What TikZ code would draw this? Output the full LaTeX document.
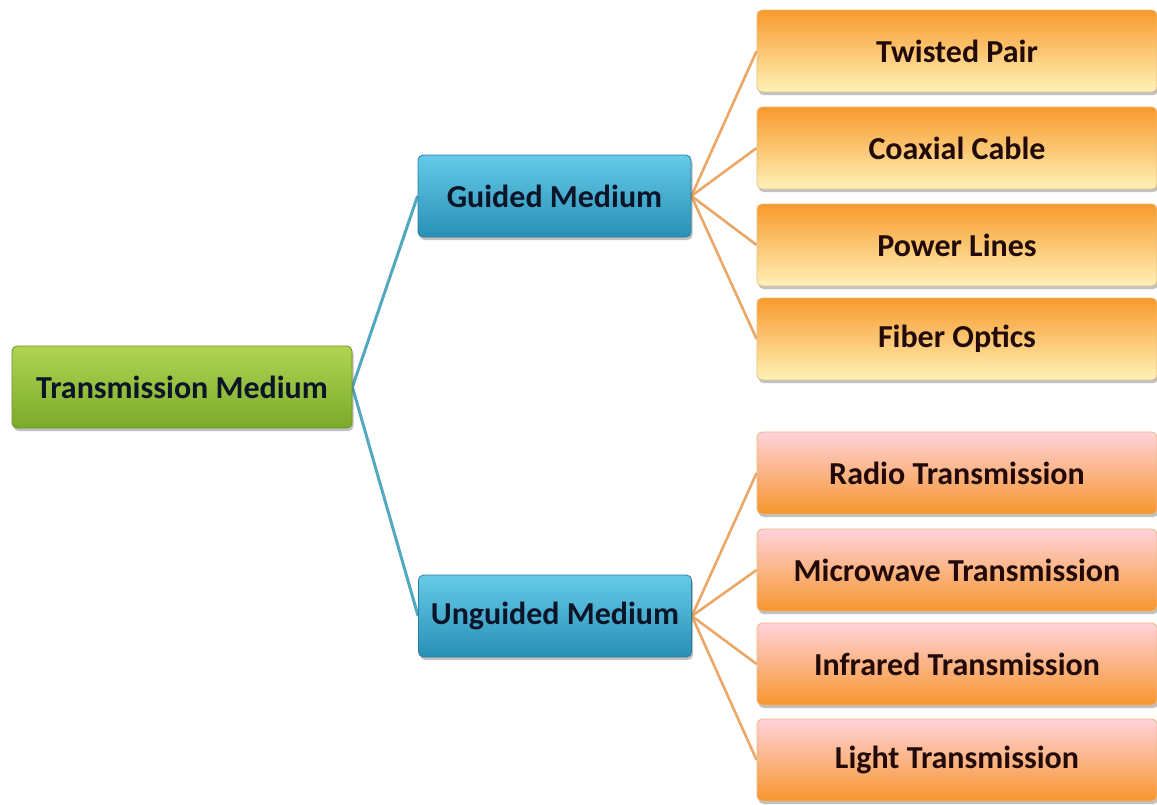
\documentclass[tikz,border=0pt]{standalone}
\usepackage{fontspec}
\setmainfont{Carlito}
\usetikzlibrary{shadows,backgrounds}

\definecolor{grnTop}{HTML}{B0D453}
\definecolor{grnBot}{HTML}{7BAA2A}
\definecolor{grnEdge}{HTML}{6A9424}
\definecolor{bluTop}{HTML}{66CAE8}
\definecolor{bluBot}{HTML}{2890B6}
\definecolor{bluEdge}{HTML}{2A7C9C}
\definecolor{orgTop}{HTML}{F89A2C}
\definecolor{orgMid}{HTML}{FCC46A}
\definecolor{orgBot}{HTML}{FFF2B8}
\definecolor{pnkTop}{HTML}{FFD2DA}
\definecolor{pnkMid}{HTML}{FBB68E}
\definecolor{pnkBot}{HTML}{F7962E}
\definecolor{orgEdge}{HTML}{D98A2E}
\definecolor{blueLink}{HTML}{52A8BF}
\definecolor{orangeLink}{HTML}{EAA765}
\definecolor{navyText}{HTML}{0C1428}
\definecolor{brownText}{HTML}{220A0A}

\begin{document}
\begin{tikzpicture}[x=1pt,y=-1pt,
  box/.style={rectangle, rounded corners=5pt, minimum height=82pt,
    inner sep=0pt, line width=0.8pt,
    font=\bfseries\fontsize{32}{38}\selectfont,
    drop shadow={shadow xshift=1.5pt, shadow yshift=-3pt, opacity=0.35, fill=black!70}},
  rootbox/.style={box, minimum width=340pt, draw=grnEdge,
    top color=grnTop, bottom color=grnBot, text=navyText},
  midbox/.style={box, minimum width=273pt, draw=bluEdge,
    top color=bluTop, bottom color=bluBot, text=navyText},
  wiredbox/.style={box, minimum width=400pt, draw=orgEdge!60,
    top color=orgTop, middle color=orgMid, bottom color=orgBot, text=brownText},
  wirelessbox/.style={box, minimum width=400pt, draw=orgEdge!60,
    top color=pnkTop, middle color=pnkMid, bottom color=pnkBot, text=brownText},
  bluelink/.style={draw=blueLink, line width=3pt},
  orangelink/.style={draw=orangeLink, line width=2.6pt}
]
\useasboundingbox (0,0) rectangle (1157,804);

% root
\node[rootbox] (tm) at (182,387) {Transmission Medium};

% second level
\node[midbox] (gm) at (554.5,196) {Guided Medium};
\node[midbox] (um) at (555,616) {Unguided Medium};

% guided leaves
\node[wiredbox] (tp) at (957,51)  {Twisted Pair};
\node[wiredbox] (cc) at (957,148) {Coaxial Cable};
\node[wiredbox] (pl) at (957,245) {Power Lines};
\node[wiredbox] (fo) at (957,339) {Fiber Optics};

% unguided leaves
\node[wirelessbox] (rt) at (957,473) {Radio Transmission};
\node[wirelessbox] (mt) at (957,570) {Microwave Transmission};
\node[wirelessbox] (it) at (957,664) {Infrared Transmission};
\node[wirelessbox] (lt) at (957,760) {Light Transmission};

% connectors, kept behind the boxes
\begin{scope}[on background layer]
  \draw[bluelink] (tm.east) -- (gm.west);
  \draw[bluelink] (tm.east) -- (um.west);
  \foreach \leaf in {tp,cc,pl,fo}{
    \draw[orangelink] (gm.east) -- (\leaf.west);
  }
  \foreach \leaf in {rt,mt,it,lt}{
    \draw[orangelink] (um.east) -- (\leaf.west);
  }
\end{scope}
\end{tikzpicture}
\end{document}
